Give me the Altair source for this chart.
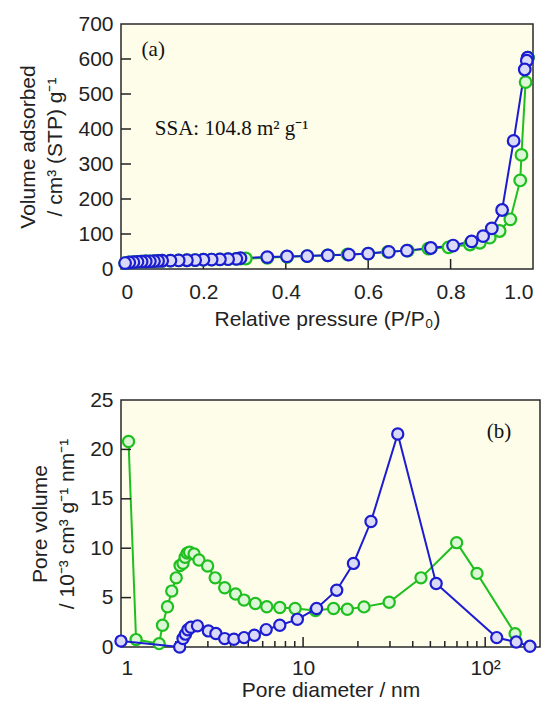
import altair as alt
import pandas as pd

# ---------------- Panel (a): N2 isotherm ----------------
ads_p = [0.01, 0.02, 0.03, 0.04, 0.05, 0.06, 0.07, 0.08, 0.09, 0.10, 0.12, 0.14, 0.16, 0.18, 0.20,
         0.22, 0.24, 0.26, 0.28, 0.29, 0.303, 0.355, 0.403, 0.452, 0.502, 0.55, 0.60, 0.648, 0.696,
         0.746, 0.795, 0.847, 0.871, 0.895, 0.919, 0.945, 0.969, 0.972, 0.982, 0.988]
ads_v = [17, 18.5, 19.5, 20.5, 21, 21.5, 22, 22.5, 23, 23.5, 24, 24.5, 25, 25.5, 26.5,
         27, 27.5, 28, 29, 29.5, 30, 32, 35, 37, 39, 41.5, 44, 49, 52.5,
         58, 62, 70, 75, 89.5, 108.6, 142, 253, 326, 534, 604]
des_p = [0.987, 0.985, 0.980, 0.953, 0.925, 0.900, 0.879, 0.851, 0.806, 0.752, 0.694, 0.650,
         0.600, 0.553, 0.502, 0.452, 0.403, 0.355, 0.29, 0.28, 0.26, 0.24, 0.22, 0.20, 0.18,
         0.16, 0.14, 0.12, 0.10, 0.09, 0.08, 0.07, 0.06, 0.05, 0.04, 0.03, 0.02, 0.01]
des_v = [604, 595, 570, 366, 168.6, 116, 94, 79, 67, 60, 52.5, 49,
         44, 41, 39, 37, 36, 34, 31, 29, 28, 27.5, 27, 26.5, 25.5,
         25, 24.5, 24, 23.5, 23, 22.5, 22, 21.5, 21, 20.5, 19.5, 18.5, 17]
a_xticks = [0.2, 0.4, 0.6, 0.8]
a_yticks = [100, 200, 300, 400, 500, 600]

# ---------------- Panel (b): pore size distribution ----------------
g_d = [1.10, 1.21, 1.62, 1.69, 1.80, 1.90, 2.01, 2.11, 2.19, 2.25, 2.31, 2.38, 2.52, 2.68, 2.99,
       3.29, 3.71, 4.26, 4.74, 5.47, 6.32, 7.45, 9.04, 11.7, 14.7, 17.5, 21.6, 29.7, 44.4, 69.7,
       90.2, 146]
g_v = [20.8, 0.75, 0.34, 2.2, 4.07, 5.66, 7.0, 8.24, 8.47, 9.08, 9.5, 9.6, 9.42, 8.81, 8.2,
       7.0, 6.0, 5.36, 4.75, 4.4, 4.07, 4.0, 3.9, 3.7, 3.9, 3.82, 4.06, 4.53, 7.0, 10.56,
       7.45, 1.35]
b_d = [1.0, 2.10, 2.19, 2.26, 2.33, 2.42, 2.63, 3.02, 3.32, 3.71, 4.17, 4.74, 5.40, 6.27, 7.45,
       9.3, 11.86, 15.3, 18.9, 23.6, 33.1, 53.8, 115.7, 148, 176]
b_v = [0.6, 0.0, 0.85, 1.3, 1.75, 2.0, 2.14, 1.63, 1.36, 0.85, 0.78, 0.95, 1.19, 1.76, 2.2,
       2.8, 3.9, 5.75, 8.46, 12.7, 21.56, 6.43, 0.95, 0.5, 0.07]
b_major = [10, 100]
b_minor = [2, 3, 4, 5, 6, 7, 8, 9, 20, 30, 40, 50, 60, 70, 80, 90]
b_yticks = [5, 10, 15, 20]

GREEN = "#1fbf1f"
GREEN_FILL = "#dcf7d6"
BLUE = "#1c1cd0"
BLUE_FILL = "#dadaf7"
SANS = "Liberation Sans"
SERIF = "Liberation Serif"

axis_common = dict(ticks=False, tickSize=0, domain=False, grid=False, labelFont=SANS,
                   labelFontSize=21, labelColor="#222222", titleFont=SANS, titleFontSize=21,
                   titleFontWeight="normal", titleColor="#222222")

# ---- panel a ----
xa = alt.Scale(domain=[0, 1], nice=False)
ya = alt.Scale(domain=[0, 700], nice=False)
ads_df = pd.DataFrame({"p": ads_p, "v": ads_v, "o": range(len(ads_p))})
des_df = pd.DataFrame({"p": des_p, "v": des_v, "o": range(len(des_p))})

xa_axis = alt.Axis(values=[0, 0.2, 0.4, 0.6, 0.8, 1.0], labelPadding=12,
                   labelExpr="datum.value == 0 ? '0' : format(datum.value, '.1f')",
                   title="Relative pressure (P/P₀)", titlePadding=6, **axis_common)
ya_axis = alt.Axis(values=[0, 100, 200, 300, 400, 500, 600, 700], labelPadding=8,
                   title=["Volume adsorbed", "/ cm³ (STP) g⁻¹"], titlePadding=12,
                   titleLineHeight=27, **axis_common)


def series(df, xs, ys, xaxis, yaxis, stroke, fill, xf="p", yf="v", size=135):
    line = alt.Chart(df).mark_line(color=stroke, strokeWidth=2).encode(
        x=alt.X(f"{xf}:Q", scale=xs, axis=xaxis),
        y=alt.Y(f"{yf}:Q", scale=ys, axis=yaxis),
        order="o:Q")
    pts = alt.Chart(df).mark_point(shape="circle", filled=False, fill=fill, fillOpacity=1,
                                   stroke=stroke, strokeWidth=2.2, size=size, opacity=1).encode(
        x=alt.X(f"{xf}:Q", scale=xs, axis=xaxis),
        y=alt.Y(f"{yf}:Q", scale=ys, axis=yaxis))
    return line, pts


g_line_a, g_pts_a = series(ads_df, xa, ya, xa_axis, ya_axis, GREEN, GREEN_FILL)
b_line_a, b_pts_a = series(des_df, xa, ya, xa_axis, ya_axis, BLUE, BLUE_FILL)

xt_a = alt.Chart(pd.DataFrame({"p": a_xticks})).mark_rule(color="#222", strokeWidth=1.5).encode(
    x=alt.X("p:Q", scale=xa, axis=xa_axis), y=alt.value(245), y2=alt.value(235))
yt_a = alt.Chart(pd.DataFrame({"v": a_yticks})).mark_rule(color="#222", strokeWidth=1.5).encode(
    y=alt.Y("v:Q", scale=ya, axis=ya_axis), x=alt.value(0), x2=alt.value(10))

txt_a = alt.Chart(pd.DataFrame({"p": [0.05, 0.082], "v": [625, 400],
                                "s": ["(a)", "SSA: 104.8 m² g⁻¹"]})).mark_text(
    font=SERIF, fontSize=21, align="left", baseline="middle", color="#111").encode(
    x=alt.X("p:Q", scale=xa, axis=xa_axis), y=alt.Y("v:Q", scale=ya, axis=ya_axis), text="s:N")

panel_a = alt.layer(g_line_a, b_line_a, xt_a, yt_a, g_pts_a, b_pts_a, txt_a).properties(
    width=412, height=245)

# ---- panel b ----
xb = alt.Scale(type="log", domain=[1, 200], nice=False)
yb = alt.Scale(domain=[0, 25], nice=False)
gdf = pd.DataFrame({"d": g_d, "v": g_v, "o": range(len(g_d))})
bdf = pd.DataFrame({"d": b_d, "v": b_v, "o": range(len(b_d))})

xb_axis = alt.Axis(values=[1, 10, 100], labelPadding=10,
                   labelExpr="datum.value == 100 ? '10²' : datum.label",
                   title="Pore diameter / nm", titlePadding=1, **axis_common)
yb_axis = alt.Axis(values=[0, 5, 10, 15, 20, 25], labelPadding=8,
                   title=["Pore volume", "/ 10⁻³ cm³ g⁻¹ nm⁻¹"], titlePadding=12,
                   titleLineHeight=27, **axis_common)

g_line_b, g_pts_b = series(gdf, xb, yb, xb_axis, yb_axis, GREEN, GREEN_FILL, xf="d", size=125)
b_line_b, b_pts_b = series(bdf, xb, yb, xb_axis, yb_axis, BLUE, BLUE_FILL, xf="d", size=125)

xmaj_b = alt.Chart(pd.DataFrame({"d": b_major})).mark_rule(color="#222", strokeWidth=1.5).encode(
    x=alt.X("d:Q", scale=xb, axis=xb_axis), y=alt.value(247), y2=alt.value(237))
xmin_b = alt.Chart(pd.DataFrame({"d": b_minor})).mark_rule(color="#222", strokeWidth=1.5).encode(
    x=alt.X("d:Q", scale=xb, axis=xb_axis), y=alt.value(247), y2=alt.value(241))
yt_b = alt.Chart(pd.DataFrame({"v": b_yticks})).mark_rule(color="#222", strokeWidth=1.5).encode(
    y=alt.Y("v:Q", scale=yb, axis=yb_axis), x=alt.value(0), x2=alt.value(10))

txt_b = alt.Chart(pd.DataFrame({"d": [102], "v": [21.8], "s": ["(b)"]})).mark_text(
    font=SERIF, fontSize=21, align="left", baseline="middle", color="#111").encode(
    x=alt.X("d:Q", scale=xb, axis=xb_axis), y=alt.Y("v:Q", scale=yb, axis=yb_axis), text="s:N")

panel_b = alt.layer(g_line_b, xmaj_b, xmin_b, yt_b, g_pts_b, b_line_b, b_pts_b,
                    txt_b).properties(width=419, height=247)

chart = alt.vconcat(panel_a, panel_b, spacing=58).properties(
    background="white", padding={"left": 9, "top": 4, "right": 5, "bottom": 5}
).configure_view(fill="#fdfdea", stroke="#2a2a2a", strokeWidth=1.5)

chart.save("out.html", embed_options={"renderer": "svg", "actions": False})
